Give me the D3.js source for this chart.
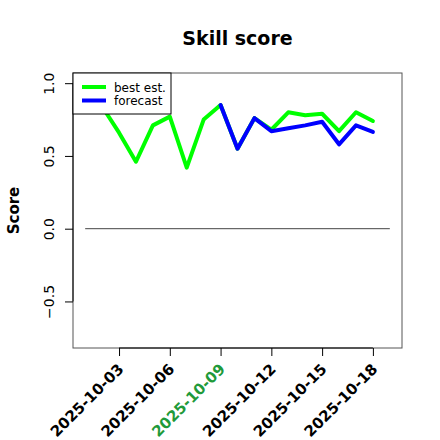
<!DOCTYPE html>
<html>
<head>
<meta charset="utf-8">
<script src="https://cdn.jsdelivr.net/npm/d3@7"></script>
<style>
  body { margin: 0; background: #fff; }
  text { font-family: "DejaVu Sans", sans-serif; }
</style>
</head>
<body>
<div id="chart"></div>
<script>
// data
const bestDates = ["2025-10-01", "2025-10-02", "2025-10-03", "2025-10-04", "2025-10-05", "2025-10-06",
                   "2025-10-07", "2025-10-08", "2025-10-09", "2025-10-10", "2025-10-11", "2025-10-12",
                   "2025-10-13", "2025-10-14", "2025-10-15", "2025-10-16", "2025-10-17", "2025-10-18"];
const bestValues = [0.92, 0.84, 0.66, 0.46, 0.71, 0.77, 0.42, 0.75, 0.85, 0.55, 0.76, 0.68,
                    0.80, 0.78, 0.79, 0.67, 0.80, 0.74];
const forecastDates = ["2025-10-09", "2025-10-10", "2025-10-11", "2025-10-12", "2025-10-13",
                       "2025-10-14", "2025-10-15", "2025-10-16", "2025-10-17", "2025-10-18"];
const forecastValues = [0.85, 0.55, 0.76, 0.67, 0.69, 0.71, 0.735, 0.58, 0.71, 0.665];
const xTickLabels = ["2025-10-03", "2025-10-06", "2025-10-09", "2025-10-12", "2025-10-15", "2025-10-18"];
const yTicks = [-0.5, 0, 0.5, 1];
const xRange = ["2025-10-01", "2025-10-19"];
const yRange = [-0.75, 1];
const highlightDate = "2025-10-09";

const width = 440, height = 440;
const margin = { top: 73, right: 38, bottom: 92, left: 73 };
const parse = d3.utcParse("%Y-%m-%d");

const svg = d3.select("#chart").append("svg")
  .attr("width", width)
  .attr("height", height);

// R style 4% axis extension
const xd = xRange.map(parse);
const xPad = (xd[1] - xd[0]) * 0.04;
const yPad = (yRange[1] - yRange[0]) * 0.04;

const x = d3.scaleUtc()
  .domain([new Date(+xd[0] - xPad), new Date(+xd[1] + xPad)])
  .range([margin.left, width - margin.right]);
const y = d3.scaleLinear()
  .domain([yRange[0] - yPad, yRange[1] + yPad])
  .range([height - margin.bottom, margin.top]);

// zero line
svg.append("line")
  .attr("x1", x(xd[0])).attr("x2", x(xd[1]))
  .attr("y1", y(0)).attr("y2", y(0))
  .attr("stroke", "#444").attr("stroke-width", 1);

const line = d3.line().x(d => x(d.date)).y(d => y(d.value));
const best = bestDates.map((d, i) => ({ date: parse(d), value: bestValues[i] }));
const fc = forecastDates.map((d, i) => ({ date: parse(d), value: forecastValues[i] }));

svg.append("path").datum(best)
  .attr("d", line).attr("fill", "none")
  .attr("stroke", "#00ff00").attr("stroke-width", 4)
  .attr("stroke-linejoin", "round").attr("stroke-linecap", "round");
svg.append("path").datum(fc)
  .attr("d", line).attr("fill", "none")
  .attr("stroke", "#0000ff").attr("stroke-width", 4)
  .attr("stroke-linejoin", "round").attr("stroke-linecap", "round");

// plot box
svg.append("rect")
  .attr("x", margin.left).attr("y", margin.top)
  .attr("width", width - margin.left - margin.right)
  .attr("height", height - margin.top - margin.bottom)
  .attr("fill", "none").attr("stroke", "#555").attr("stroke-width", 1);

// y axis
const yAxis = svg.append("g")
  .attr("transform", `translate(${margin.left},0)`)
  .call(d3.axisLeft(y).tickValues(yTicks).tickSize(8).tickFormat(d3.format(".1f")));
yAxis.select(".domain").attr("d", `M0,${y(yTicks[0])}H0V${y(yTicks[yTicks.length - 1])}`)
  .attr("stroke", "#000");
yAxis.selectAll(".tick text")
  .attr("font-size", 14)
  .attr("font-family", "DejaVu Sans")
  .attr("fill", "#000")
  .attr("x", null).attr("dy", null)
  .attr("text-anchor", "middle")
  .attr("transform", "translate(-19,0) rotate(-90)");

// x axis
const xTicks = xTickLabels.map(parse);
const xAxis = svg.append("g")
  .attr("transform", `translate(0,${height - margin.bottom})`)
  .call(d3.axisBottom(x).tickValues(xTicks).tickSize(8).tickFormat(d3.utcFormat("%Y-%m-%d")));
xAxis.select(".domain").attr("d", `M${x(xTicks[0])},0H${x(xTicks[xTicks.length - 1])}`)
  .attr("stroke", "#000");
xAxis.selectAll(".tick text")
  .attr("font-size", 15)
  .attr("font-weight", "bold")
  .attr("font-family", "DejaVu Sans")
  .attr("fill", d => d3.utcFormat("%Y-%m-%d")(d) === highlightDate ? "#1f9a3a" : "#000")
  .attr("y", null).attr("dy", null)
  .attr("text-anchor", "end")
  .attr("transform", "translate(5,22) rotate(-45)");

// legend
const legend = svg.append("g");
legend.append("rect")
  .attr("x", margin.left).attr("y", margin.top)
  .attr("width", 98).attr("height", 41)
  .attr("fill", "#fff").attr("stroke", "#000").attr("stroke-width", 1);
const legendItems = [["best est.", "#00ff00"], ["forecast", "#0000ff"]];
legendItems.forEach((it, i) => {
  const ly = margin.top + 14 + i * 13.5;
  legend.append("line")
    .attr("x1", margin.left + 9).attr("x2", margin.left + 33)
    .attr("y1", ly).attr("y2", ly)
    .attr("stroke", it[1]).attr("stroke-width", 4);
  legend.append("text")
    .attr("x", margin.left + 41).attr("y", ly + 4.5)
    .attr("font-size", 12)
    .text(it[0]);
});

// title and axis label
svg.append("text")
  .attr("x", (margin.left + width - margin.right) / 2).attr("y", 45)
  .attr("text-anchor", "middle")
  .attr("font-size", 19).attr("font-weight", "bold")
  .text("Skill score");
svg.append("text")
  .attr("transform", `translate(19,${(margin.top + height - margin.bottom) / 2}) rotate(-90)`)
  .attr("text-anchor", "middle")
  .attr("font-size", 15).attr("font-weight", "bold")
  .text("Score");
</script>
</body>
</html>
